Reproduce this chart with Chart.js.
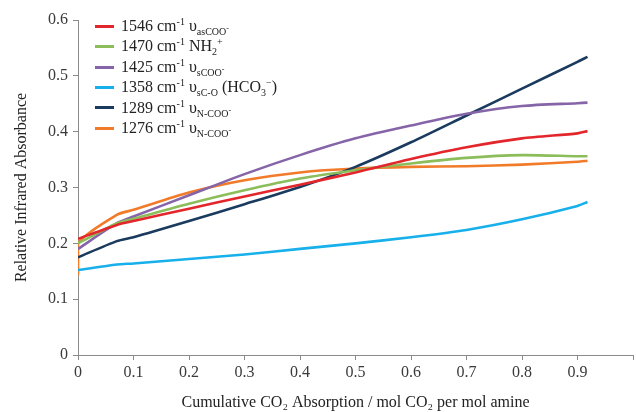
<!DOCTYPE html>
<html>
<head>
<meta charset="utf-8">
<script src="https://cdn.jsdelivr.net/npm/chart.js@4/dist/chart.umd.min.js"></script>
<style>
  body { margin: 0; background: #fff; }
  #wrap { position: relative; width: 636px; height: 412px; }
  #legend {
    position: absolute; left: 95px; top: 16px;
    font: 16px 'Liberation Serif', 'Times New Roman', serif; color: #222;
  }
  .row { height: 20.4px; line-height: 20px; white-space: nowrap; }
  .sw { display: inline-block; width: 19px; height: 3px; vertical-align: middle; margin-right: 7px; position: relative; top: -1px; }
  sup, sub { font-size: 10px; line-height: 0; }
  sub sup { font-size: 8px; }
</style>
</head>
<body>
<div id="wrap">
  <canvas id="ir-chart" width="636" height="412"></canvas>
  <div id="legend">
    <div class="row"><span class="sw" style="background:#e3262b"></span>1546 cm<sup>-1</sup> υ<sub>asCOO<sup>-</sup></sub></div>
    <div class="row"><span class="sw" style="background:#8bbd5a"></span>1470 cm<sup>-1</sup> NH<sub>2</sub><sup>+</sup></div>
    <div class="row"><span class="sw" style="background:#8565a8"></span>1425 cm<sup>-1</sup> υ<sub>sCOO<sup>-</sup></sub></div>
    <div class="row"><span class="sw" style="background:#17b0ea"></span>1358 cm<sup>-1</sup> υ<sub>sC-O</sub> (HCO<sub>3</sub><sup>−</sup>)</div>
    <div class="row"><span class="sw" style="background:#1a3a5e"></span>1289 cm<sup>-1</sup> υ<sub>N-COO<sup>-</sup></sub></div>
    <div class="row"><span class="sw" style="background:#f27b2a"></span>1276 cm<sup>-1</sup> υ<sub>N-COO<sup>-</sup></sub></div>
  </div>
</div>
<script>
'use strict';

// ------- data ------- //
const co2Loading = [0, 0.07, 0.1, 0.2, 0.3, 0.4, 0.5, 0.6, 0.7, 0.8, 0.9, 0.918];

const abs1546 = [0.208, 0.233, 0.240, 0.262, 0.284, 0.305, 0.327, 0.351, 0.372, 0.388, 0.397, 0.401];
const abs1470 = [0.200, 0.236, 0.244, 0.271, 0.295, 0.316, 0.331, 0.343, 0.353, 0.358, 0.356, 0.356];
const abs1425 = [0.190, 0.236, 0.248, 0.286, 0.324, 0.358, 0.388, 0.411, 0.432, 0.446, 0.451, 0.452];
const abs1358 = [0.152, 0.162, 0.164, 0.172, 0.180, 0.190, 0.200, 0.211, 0.224, 0.243, 0.267, 0.274];
const abs1289 = [0.175, 0.204, 0.211, 0.240, 0.270, 0.301, 0.337, 0.381, 0.429, 0.477, 0.525, 0.534];
const abs1276 = [0.200, 0.251, 0.260, 0.291, 0.313, 0.327, 0.334, 0.337, 0.338, 0.341, 0.346, 0.348];
const abs1276Start = 0.143; // first reading drops below the rest at zero loading

const xTicks = [0, 0.1, 0.2, 0.3, 0.4, 0.5, 0.6, 0.7, 0.8, 0.9];

const serif = "'Liberation Serif', 'Times New Roman', serif";
const axisColor = '#8a8a8a';

function toPoints(ys) {
  return co2Loading.map((x, i) => ({ x: x, y: ys[i] }));
}

function series(label, ys, color) {
  return {
    label: label,
    data: ys,
    borderColor: color,
    backgroundColor: color,
    borderWidth: 2.6,
    pointRadius: 0,
    tension: 0.25,
    fill: false,
  };
}

const datasets = [
  series('1546', toPoints(abs1546), '#e3262b'),
  series('1470', toPoints(abs1470), '#8bbd5a'),
  series('1425', toPoints(abs1425), '#8565a8'),
  series('1358', toPoints(abs1358), '#17b0ea'),
  series('1289', toPoints(abs1289), '#1a3a5e'),
  series('1276', [{ x: 0, y: abs1276Start }].concat(toPoints(abs1276)), '#f27b2a'),
];

new Chart(document.getElementById('ir-chart'), {
  type: 'line',
  data: { datasets: datasets },
  options: {
    responsive: false,
    animation: false,
    layout: { padding: { top: 20, right: 0, left: 0, bottom: 0 } },
    plugins: { legend: { display: false }, tooltip: { enabled: false } },
    scales: {
      x: {
        type: 'linear',
        min: 0,
        max: 1,
        afterFit: (scale) => { scale.height = 57; },
        afterBuildTicks: (scale) => {
          scale.ticks = xTicks.concat([1]).map((v) => ({ value: v }));
        },
        ticks: {
          color: '#3a3a3a',
          font: { family: serif, size: 16 },
          padding: 3,
          maxRotation: 0,
          callback: (v) => (v === 1 ? '' : v === 0 ? '0' : (Math.round(v * 10) / 10).toFixed(1)),
        },
        grid: { drawOnChartArea: false, drawTicks: true, tickLength: 5, color: axisColor },
        border: { color: axisColor, width: 1 },
        title: {
          display: true,
          text: 'Cumulative CO₂ Absorption / mol CO₂ per mol amine',
          color: '#222',
          font: { family: serif, size: 16 },
          padding: { top: 4, bottom: 0 },
        },
      },
      y: {
        min: 0,
        max: 0.6,
        afterFit: (scale) => { scale.width = 78; },
        ticks: {
          stepSize: 0.1,
          color: '#3a3a3a',
          font: { family: serif, size: 16 },
          padding: 5,
          callback: (v) => (v === 0 ? '0' : (Math.round(v * 10) / 10).toFixed(1)),
        },
        grid: { drawOnChartArea: false, drawTicks: true, tickLength: 5, color: axisColor },
        border: { color: axisColor, width: 1 },
        title: {
          display: true,
          text: 'Relative Infrared Absorbance',
          color: '#222',
          font: { family: serif, size: 16 },
          padding: { top: 12, bottom: 0 },
        },
      },
    },
  },
});
</script>
</body>
</html>
